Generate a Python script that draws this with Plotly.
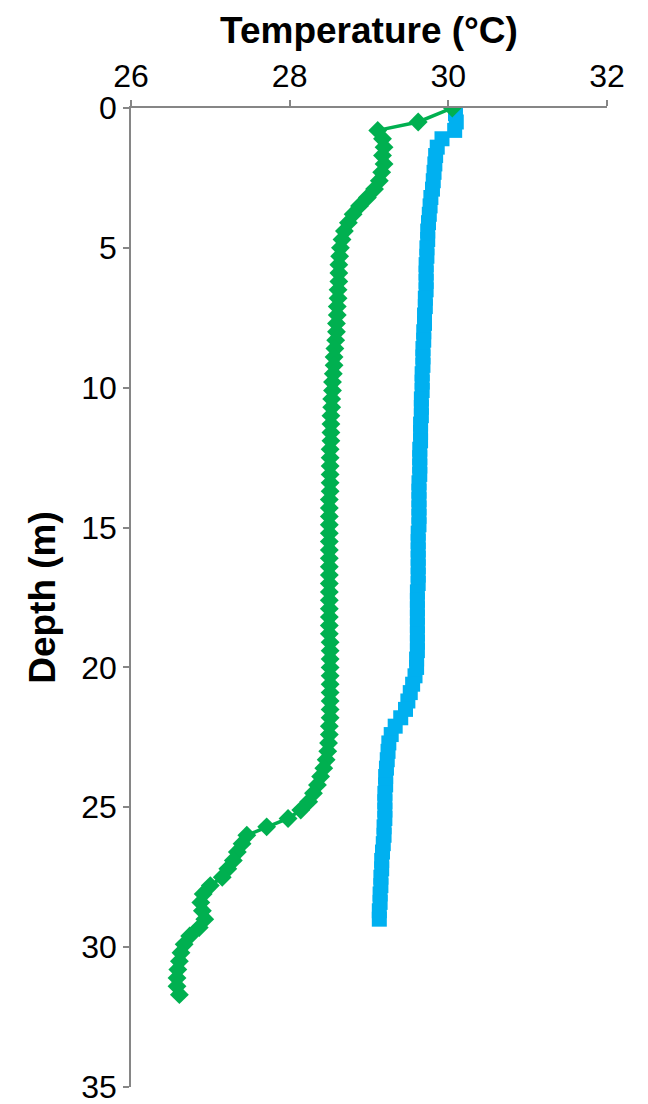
import plotly.graph_objects as go

# Temperature profiles (depth in m, temperature in °C)
green_depth = [0.0, 0.5, 0.8, 1.1, 1.4, 1.7, 2.0, 2.3, 2.6, 2.9, 3.2, 3.5, 3.8, 4.1, 4.4, 4.7,
               5.0, 5.3, 5.6, 5.9, 6.2, 6.5, 6.8, 7.1, 7.4, 7.7, 8.0, 8.3, 8.6, 8.9, 9.2, 9.5,
               9.8, 10.1, 10.4, 10.7, 11.0, 11.3, 11.6, 11.9, 12.2, 12.5, 12.8, 13.1, 13.4, 13.7,
               14.0, 14.3, 14.6, 14.9, 15.2, 15.5, 15.8, 16.1, 16.4, 16.7, 17.0, 17.3, 17.6, 17.9,
               18.2, 18.5, 18.8, 19.1, 19.4, 19.7, 20.0, 20.3, 20.6, 20.9, 21.2, 21.5, 21.8, 22.1,
               22.4, 22.7, 23.0, 23.3, 23.6, 23.9, 24.2, 24.5, 24.8, 25.1, 25.4, 25.7, 26.0, 26.3,
               26.6, 26.9, 27.2, 27.5, 27.8, 28.1, 28.4, 28.7, 29.0, 29.3, 29.6, 29.9, 30.2, 30.5,
               30.8, 31.1, 31.4, 31.7]
green_temp = [30.05, 29.62, 29.11, 29.17, 29.19, 29.17, 29.19, 29.16, 29.13, 29.07, 28.98, 28.88,
              28.80, 28.74, 28.69, 28.66, 28.64, 28.63, 28.62, 28.62, 28.62, 28.61, 28.61, 28.60,
              28.60, 28.59, 28.59, 28.58, 28.57, 28.56, 28.56, 28.55, 28.54, 28.54, 28.53, 28.53,
              28.52, 28.52, 28.52, 28.52, 28.51, 28.51, 28.51, 28.51, 28.51, 28.51, 28.50, 28.50,
              28.50, 28.50, 28.50, 28.50, 28.50, 28.50, 28.50, 28.50, 28.50, 28.50, 28.50, 28.50,
              28.50, 28.50, 28.50, 28.51, 28.51, 28.51, 28.51, 28.51, 28.51, 28.51, 28.51, 28.51,
              28.51, 28.50, 28.50, 28.49, 28.48, 28.46, 28.43, 28.39, 28.35, 28.30, 28.24, 28.14,
              27.98, 27.71, 27.46, 27.40, 27.34, 27.29, 27.22, 27.15, 27.00, 26.91, 26.88, 26.90,
              26.93, 26.86, 26.74, 26.67, 26.63, 26.61, 26.59, 26.58, 26.58, 26.61]

blue_depth = [0.2, 0.5, 0.8, 1.1, 1.4, 1.7, 2.0, 2.3, 2.6, 2.9, 3.2, 3.5, 3.8, 4.1, 4.4, 4.7,
              5.0, 5.3, 5.6, 5.9, 6.2, 6.5, 6.8, 7.1, 7.4, 7.7, 8.0, 8.3, 8.6, 8.9, 9.2, 9.5,
              9.8, 10.1, 10.4, 10.7, 11.0, 11.3, 11.6, 11.9, 12.2, 12.5, 12.8, 13.1, 13.4, 13.7,
              14.0, 14.3, 14.6, 14.9, 15.2, 15.5, 15.8, 16.1, 16.4, 16.7, 17.0, 17.3, 17.6, 17.9,
              18.2, 18.5, 18.8, 19.1, 19.4, 19.7, 20.0, 20.3, 20.6, 20.9, 21.2, 21.5, 21.8, 22.1,
              22.4, 22.7, 23.0, 23.3, 23.6, 23.9, 24.2, 24.5, 24.8, 25.1, 25.4, 25.7, 26.0, 26.3,
              26.6, 26.9, 27.2, 27.5, 27.8, 28.1, 28.4, 28.7, 29.0]
blue_temp = [30.09, 30.10, 30.08, 29.92, 29.86, 29.84, 29.83, 29.82, 29.81, 29.80, 29.78, 29.77,
             29.76, 29.75, 29.74, 29.74, 29.73, 29.73, 29.72, 29.72, 29.72, 29.72, 29.71, 29.71,
             29.70, 29.70, 29.69, 29.69, 29.68, 29.68, 29.68, 29.67, 29.67, 29.67, 29.66, 29.66,
             29.66, 29.65, 29.65, 29.65, 29.64, 29.64, 29.64, 29.64, 29.63, 29.63, 29.63, 29.63,
             29.63, 29.63, 29.62, 29.62, 29.62, 29.62, 29.62, 29.62, 29.62, 29.61, 29.61, 29.61,
             29.61, 29.61, 29.61, 29.61, 29.61, 29.60, 29.60, 29.58, 29.55, 29.52, 29.49, 29.46,
             29.40, 29.33, 29.28, 29.25, 29.24, 29.23, 29.22, 29.21, 29.21, 29.20, 29.20, 29.20,
             29.20, 29.19, 29.19, 29.18, 29.17, 29.16, 29.16, 29.15, 29.15, 29.14, 29.14, 29.13,
             29.13]

temp_ticks = [26, 28, 30, 32]
depth_ticks = [0, 5, 10, 15, 20, 25, 30, 35]

AXIS_GREY = "#868686"
FONT = "Liberation Sans, Arial, sans-serif"

fig = go.Figure()

fig.add_trace(go.Scatter(
    x=blue_temp, y=blue_depth, mode="lines+markers",
    line=dict(color="#00B0F0", width=3),
    marker=dict(symbol="square", size=15, color="#00B0F0"),
    showlegend=False,
))

fig.add_trace(go.Scatter(
    x=green_temp, y=green_depth, mode="lines+markers",
    line=dict(color="#00B050", width=3.5),
    marker=dict(symbol="diamond", size=14.5, color="#00B050"),
    showlegend=False,
))

fig.update_layout(
    width=648, height=1104,
    margin=dict(l=131, r=41, t=108, b=17),
    paper_bgcolor="white", plot_bgcolor="white",
    font=dict(family=FONT, color="black"),
    xaxis=dict(
        side="top", range=[26, 32], tickvals=temp_ticks, automargin=False,
        ticklabeloverflow="allow",
        showgrid=False, zeroline=False,
        showline=True, linecolor=AXIS_GREY, linewidth=1.5,
        ticks="outside", ticklen=6, tickcolor=AXIS_GREY, tickwidth=1.5,
        tickfont=dict(size=32, family=FONT),
        title=dict(text="<b>Temperature (°C)</b>", font=dict(size=37, family=FONT), standoff=4),
    ),
    yaxis=dict(
        range=[35, 0], tickvals=depth_ticks, automargin=False,
        ticklabeloverflow="allow",
        showgrid=False, zeroline=False,
        showline=True, linecolor=AXIS_GREY, linewidth=1.5,
        ticks="outside", ticklen=6, tickcolor=AXIS_GREY, tickwidth=1.5,
        tickfont=dict(size=32, family=FONT),
        title=dict(text="<b>Depth (m)</b>", font=dict(size=37, family=FONT), standoff=14),
    ),
)

fig.write_html("out.html")
